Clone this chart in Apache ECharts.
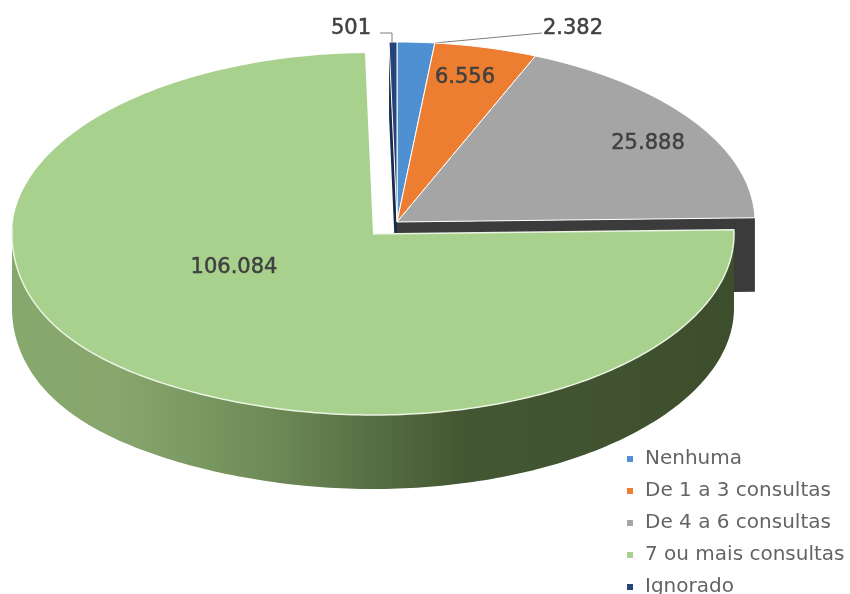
<!DOCTYPE html>
<html>
<head>
<meta charset="utf-8">
<style>html,body{margin:0;background:#fff}#chart{width:850px;height:594px}</style>
<script src="https://cdn.jsdelivr.net/npm/echarts@6/dist/echarts.min.js"></script>
</head>
<body>
<div id="chart"></div>
<script>
// Consultas de pré-natal: pizza 3D com a fatia principal destacada
const categories = ['Nenhuma', 'De 1 a 3 consultas', 'De 4 a 6 consultas', '7 ou mais consultas', 'Ignorado'];
const values = [2382, 6556, 25888, 106084, 501];
const colors = ['#4f90d2', '#ed7d31', '#a5a5a5', '#a9d18e', '#264478'];

// Centro de cada grupo de fatias e posição de cada rótulo
const mainCentre = [397, 222];
const mainRadii = [358, 180];
const detachedCentre = [373, 234];
const detachedRadii = [361, 181];
const depth = 74;
const flankSag = 22;
const labelSpots = [[573, 29], [465, 78], [648, 144], [234, 268], [351, 29]];

const total = values.reduce((a, b) => a + b, 0);
const starts = values.map((_, i) => values.slice(0, i).reduce((a, b) => a + b, 0));
const toDegrees = v => v / total * 360;
const formatValue = v => String(v).replace(/\B(?=(\d{3})+$)/g, '.');

// Ponto da borda elíptica; 0° aponta para cima e o ângulo cresce no sentido horário.
// O quadrante inferior esquerdo da fatia destacada desce um pouco pela perspectiva.
function rim(c, r, deg, drop) {
  const t = deg * Math.PI / 180;
  const s = Math.sin(t), k = Math.cos(t);
  const sag = c === detachedCentre && s < 0 && k < 0 ? flankSag * s * s * s * s * -k : 0;
  return [c[0] + r[0] * s, c[1] - r[1] * k + (drop || 0) + sag];
}
function arc(c, r, from, to, drop) {
  const n = Math.max(2, Math.ceil(Math.abs(to - from)));
  const pts = [];
  for (let i = 0; i <= n; i++) pts.push(rim(c, r, from + (to - from) * i / n, drop));
  return pts;
}

function renderSlice(params, api) {
  const index = api.value(0);
  const a0 = toDegrees(api.value(1));
  const a1 = a0 + toDegrees(api.value(2));
  const px = p => api.coord(p);
  const detached = index === 3;
  const c = detached ? detachedCentre : mainCentre;
  const r = detached ? detachedRadii : mainRadii;
  const children = [];

  if (detached) {
    // parede curva frontal, do lado esquerdo ao direito
    const top = arc(c, r, 270, Math.max(a0, 90));
    const bottom = arc(c, r, Math.max(a0, 90), 270, depth);
    children.push({
      type: 'polygon',
      shape: { points: top.concat(bottom).map(px) },
      style: {
        fill: new echarts.graphic.LinearGradient(0, 0, 1, 0, [
          { offset: 0, color: '#86a86d' },
          { offset: 0.15, color: '#87a66d' },
          { offset: 0.35, color: '#6f8c58' },
          { offset: 0.62, color: '#445733' },
          { offset: 1, color: '#3d4e2d' }
        ])
      }
    });
  }
  if (index === 2) {
    // face de corte que fica à mostra sob a fatia cinza
    const edge = rim(c, r, a1);
    children.push({
      type: 'polygon',
      shape: { points: [c, edge, [edge[0], edge[1] + depth], [c[0], c[1] + depth]].map(px) },
      style: { fill: '#3b3b3b' }
    });
  }
  if (index === 4) {
    // face de corte estreita à esquerda da fatia azul-escura
    const edge = rim(c, r, a0);
    children.push({
      type: 'polygon',
      shape: { points: [edge, c, [c[0], c[1] + depth], [edge[0], edge[1] + depth]].map(px) },
      style: { fill: '#182c4e' }
    });
  }

  children.push({
    type: 'polygon',
    shape: { points: [c].concat(arc(c, r, a0, a1)).map(px) },
    style: detached
      ? { fill: api.visual('color') }
      : { fill: api.visual('color'), stroke: '#ffffff', lineWidth: 1, lineJoin: 'round' }
  });

  if (detached) {
    // filete claro na borda da frente e no corte superior da fatia destacada
    children.push({
      type: 'polyline',
      shape: { points: [c].concat(arc(c, r, a0, 272)).map(px) },
      style: { fill: null, stroke: '#eaf4e2', lineWidth: 1.5, lineJoin: 'round' }
    });
  }

  // linhas de chamada dos dois rótulos externos
  if (index === 0) {
    children.push({
      type: 'polyline',
      shape: { points: [rim(c, r, a1), [542, 33]].map(px) },
      style: { fill: null, stroke: '#7f7f7f', lineWidth: 1 }
    });
  }
  if (index === 4) {
    children.push({
      type: 'polyline',
      shape: { points: [[380, 33], [392, 33], [392, 42]].map(px) },
      style: { fill: null, stroke: '#7f7f7f', lineWidth: 1 }
    });
  }

  const spot = px(labelSpots[index]);
  children.push({
    type: 'text',
    style: {
      x: spot[0], y: spot[1],
      text: formatValue(api.value(2)),
      align: 'center', verticalAlign: 'middle',
      font: '21px "DejaVu Sans"',
      fill: '#404040',
      stroke: '#404040',
      lineWidth: 0.5
    }
  });
  return { type: 'group', children };
}

const series = categories.map((name, i) => ({
  type: 'custom',
  name,
  z: i === 3 ? 4 : 2,
  silent: true,
  animation: false,
  clip: false,
  renderItem: renderSlice,
  itemStyle: { color: colors[i] },
  encode: { x: 1, y: 2 },
  data: [[i, starts[i], values[i]]]
}));

const chart = echarts.init(document.getElementById('chart'), null, { renderer: 'canvas' });
chart.setOption({
  animation: false,
  backgroundColor: '#ffffff',
  grid: { left: 0, right: 0, top: 0, bottom: 0 },
  xAxis: { type: 'value', min: 0, max: 850, show: false },
  yAxis: { type: 'value', min: 0, max: 594, inverse: true, show: false },
  legend: {
    orient: 'vertical',
    left: 622,
    top: 443,
    height: 220,
    padding: 5,
    icon: 'rect',
    itemWidth: 6,
    itemHeight: 6,
    itemGap: 10,
    selectedMode: false,
    textStyle: { fontFamily: 'DejaVu Sans', fontSize: 20, lineHeight: 22, color: '#646464', padding: [0, 0, 0, 7] },
    data: categories
  },
  series
});
</script>
</body>
</html>
